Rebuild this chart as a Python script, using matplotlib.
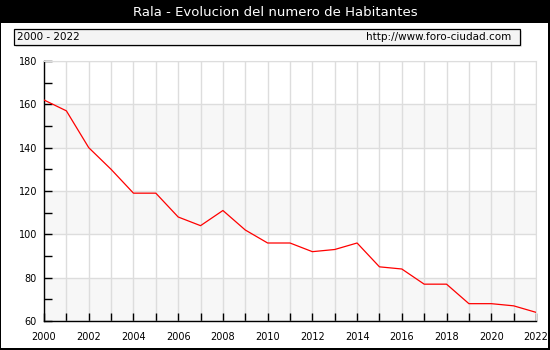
import matplotlib
matplotlib.use("Agg")
import matplotlib.pyplot as plt
from matplotlib.patches import Rectangle
from matplotlib.ticker import MultipleLocator

years = list(range(2000, 2023))
population = [162, 157, 140, 130, 119, 119, 108, 104, 111, 102, 96, 96, 92, 93, 96,
              85, 84, 77, 77, 68, 68, 67, 64]
title = "Rala - Evolucion del numero de Habitantes"
period_label = "2000 - 2022"
site_label = "http://www.foro-ciudad.com"

W, H = 550, 350
fig = plt.figure(figsize=(W / 100, H / 100), dpi=100)
fig.patch.set_facecolor("black")

def fx(x):
    return x / W

def fy(y):
    return 1 - y / H

# white panel
fig.patches.append(Rectangle((fx(1), fy(348)), fx(548) - fx(1), fy(23) - fy(348),
                             transform=fig.transFigure, facecolor="white", edgecolor="none", zorder=-2))
fig.text(0.5, fy(12), title, color="white", ha="center", va="center", fontsize=9.5,
         family="DejaVu Sans")

# header box with shadow
fig.patches.append(Rectangle((fx(16), fy(47)), fx(522) - fx(16), fy(31) - fy(47),
                             transform=fig.transFigure, facecolor="#e6e6e6", edgecolor="none", zorder=-1))
fig.patches.append(Rectangle((fx(14), fy(45)), fx(520) - fx(14), fy(29) - fy(45),
                             transform=fig.transFigure, facecolor="#f4f4f4", edgecolor="black",
                             linewidth=0.9, zorder=1))
fig.text(fx(17), fy(37), period_label, ha="left", va="center", fontsize=7.5, zorder=3)
fig.text(fx(511), fy(37), site_label, ha="right", va="center", fontsize=7.5, zorder=3)

ax = fig.add_axes([fx(44), fy(321), fx(536) - fx(44), fy(61) - fy(321)])
ax.set_zorder(2)
ax.set_xlim(2000, 2022)
ax.set_ylim(60, 180)
ax.set_facecolor("white")
for lo in range(60, 180, 40):
    ax.axhspan(lo, lo + 20, color="#f7f7f7", zorder=0, lw=0)
ax.xaxis.set_major_locator(MultipleLocator(2))
ax.xaxis.set_minor_locator(MultipleLocator(1))
ax.yaxis.set_major_locator(MultipleLocator(20))
ax.yaxis.set_minor_locator(MultipleLocator(10))
ax.grid(True, which="major", axis="y", color="#dddddd", lw=1)
ax.grid(True, which="both", axis="x", color="#dddddd", lw=1)
ax.set_axisbelow(True)
ax.plot(years, population, color="red", lw=0.9, zorder=3)
for s in ["top", "right"]:
    ax.spines[s].set_color("#dddddd")
for s in ["left", "bottom"]:
    ax.spines[s].set_color("black")
    ax.spines[s].set_linewidth(1)
ax.tick_params(which="both", direction="in", length=6, width=1, labelsize=7,
               colors="black", pad=5)
ax.tick_params(axis="x", which="both", pad=8)
fig.savefig("out.png", dpi=100, facecolor=fig.get_facecolor())
